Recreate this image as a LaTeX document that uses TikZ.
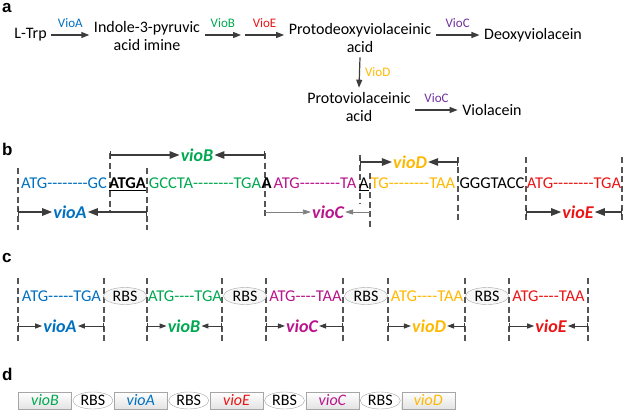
\documentclass[tikz,border=0pt]{standalone}
\usepackage{fontspec}
\setmainfont{Carlito}
\newfontfamily\panelfont{Liberation Sans}
\usepackage{xcolor}
\usetikzlibrary{arrows.meta, positioning, shapes.geometric}

\definecolor{vioAcol}{RGB}{0,112,192}
\definecolor{vioBcol}{RGB}{0,168,80}
\definecolor{vioCcol}{RGB}{112,48,160}
\definecolor{vioCmag}{RGB}{185,20,140}
\definecolor{vioDcol}{RGB}{255,184,0}
\definecolor{vioEcol}{RGB}{235,20,20}
\definecolor{linegray}{RGB}{60,60,60}
\definecolor{cutgray}{RGB}{85,85,85}

% run of plain hyphens (no en-dash ligature)
\newcommand{\seqgap}[1]{\foreach \k in {1,...,#1}{-\kern0pt}}

\begin{document}
\begin{tikzpicture}[
    x=1pt, y=-1pt,
    node distance=1pt,
    chem/.style={align=center, inner sep=4.5pt, font=\fontsize{16}{18}\selectfont},
    enz/.style={above=6pt, inner sep=1pt, font=\fontsize{13}{15}\selectfont},
    rxn/.style={-{Triangle[length=8pt, width=6pt]}, line width=1.2pt, draw=linegray},
    panel/.style={anchor=base west, inner sep=0pt, font=\panelfont\bfseries\fontsize{17}{19}\selectfont},
    seq/.style={anchor=base, inner sep=0pt, font=\fontsize{16.5}{18}\selectfont},
    gene/.style={inner sep=1pt, font=\bfseries\itshape\fontsize{18}{20}\selectfont},
    cut/.style={draw=cutgray, dash pattern=on 6pt off 3.5pt, line width=1.1pt},
    dim/.style={{Bar[width=8pt]}-{Triangle[length=10pt, width=7.5pt]}, line width=1.3pt, draw=linegray},
    dimthin/.style={-{Triangle[length=8pt, width=5pt]}, line width=0.6pt, draw=gray},
    dimsmall/.style={{Bar[width=7pt]}-{Triangle[length=7pt, width=5pt]}, line width=1pt, draw=linegray},
    rbs/.style={ellipse, draw=gray!70, fill=gray!6, minimum width=43pt, minimum height=17pt,
                inner sep=0pt, font=\fontsize{16}{18}\selectfont},
    part/.style={draw=gray!70, top color=white, bottom color=gray!22, minimum width=53pt,
                 minimum height=17pt, inner sep=0pt, font=\itshape\fontsize{16}{18}\selectfont}
]
\useasboundingbox (0,0) rectangle (628,416);

% a: pathway
\node[panel] at (2,12) {a};
\node[chem] (ltrp) at (30.5,35) {L-Trp};
\node[chem] (indole) at (147,36) {Indole-3-pyruvic\\acid imine};
\node[chem] (proto) at (360,38) {Protodeoxyviolaceinic\\acid};
\node[chem] (deoxy) at (533,35) {Deoxyviolacein};
\node[chem] (protov) at (359,107) {Protoviolaceinic\\acid};
\node[chem] (viol) at (492,110) {Violacein};
\coordinate (split) at (243,35);

\draw[rxn] (ltrp.east) -- node[enz, text=vioAcol] {VioA} (ltrp.east -| indole.west);
\draw[rxn] (indole.east |- split) -- node[enz, text=vioBcol] {VioB} ([xshift=-2pt]split);
\draw[rxn] ([xshift=2pt]split) -- node[enz, text=vioEcol] {VioE} (proto.west |- split);
\draw[rxn] (proto.east |- deoxy) -- node[enz, text=vioCcol] {VioC} (deoxy.west);
\draw[rxn] (proto.south) -- node[right=4pt, inner sep=1pt, text=vioDcol,
    font=\fontsize{13}{15}\selectfont] {VioD} (protov.north);
\draw[rxn] (protov.east |- viol) -- node[enz, text=vioCcol] {VioC} (viol.west);

% b: natural operon
\node[panel] at (2,155) {b};
\foreach \n/\x/\ya/\yb in {k1/18/168/230, k2/110/153/212, k3/147/168/230, k4/265/153/217,
    k5/360/155/203, k6/370/173/230, k7/458/157/222, k8/526/157/222, k9/622/157/222} {
  \coordinate (\n) at (\x,\ya);
  \draw[cut] (\n) -- (\x,\yb);
}
\node[seq, text=vioAcol] (sA) at (64,188.5) {ATG\seqgap{8}GC};
\node[seq] (sAB) at (127.5,188.5) {\textbf{\underline{ATGA}}};
\node[seq, text=vioBcol] (sB) at (205,188.5) {GCCTA\seqgap{8}TGA};
\node[seq] (sBC) at (266.5,188.5) {\textbf{A}};
\node[seq, text=vioCmag] (sC) at (315,188.5) {ATG\seqgap{8}TA};
\node[seq] (sCD) at (364,188.5) {\underline{A}};
\node[seq, text=vioDcol] (sD) at (413,188.5) {TG\seqgap{8}TAA};
\node[seq] (kpn) at (492,188.5) {GGGTACC};
\node[seq, text=vioEcol] (sE) at (574,188.5) {ATG\seqgap{8}TGA};

\node[gene, text=vioBcol] (gB) at (197,155) {vioB};
\node[gene, text=vioAcol] (gA) at (70,212) {vioA};
\node[gene, text=vioCmag] (gC) at (328,212) {vioC};
\node[gene, text=vioDcol] (gD) at (410,162) {vioD};
\node[gene, text=vioEcol] (gE) at (578,212) {vioE};
\draw[dim] (gB -| k2) -- (gB.west);  \draw[dim] (gB -| k4) -- (gB.east);
\draw[dim] (gA -| k1) -- (gA.west);  \draw[dim] (gA -| k3) -- (gA.east);
\draw[dimthin] (gC -| k4) -- (gC.west); \draw[dimthin] (gC -| k6) -- (gC.east);
\draw[dim] (gD -| k5) -- (gD.west);  \draw[dim] (gD -| k7) -- (gD.east);
\draw[dim] (gE -| k8) -- (gE.west);  \draw[dim] (gE -| k9) -- (gE.east);

% c: one RBS per gene
\node[panel] at (2,262) {c};
\foreach \n/\x in {m1/18, m2/104, m3/147, m4/222, m5/266, m6/343, m7/388, m8/465, m9/509, m10/588} {
  \coordinate (\n) at (\x,278);
  \draw[cut] (\n) -- (\x,343);
}
\node[seq, text=vioAcol] (cA) at (61.5,301) {ATG\seqgap{5}TGA};
\node[rbs] (rbs1) at (125,296) {RBS};
\node[seq, text=vioBcol] (cB) at (185,301) {ATG\seqgap{4}TGA};
\node[rbs] (rbs2) at (245,296) {RBS};
\node[seq, text=vioCmag] (cC) at (305.5,301) {ATG\seqgap{4}TAA};
\node[rbs] (rbs3) at (366,296) {RBS};
\node[seq, text=vioDcol] (cD) at (427,301) {ATG\seqgap{4}TAA};
\node[rbs] (rbs4) at (487,296) {RBS};
\node[seq, text=vioEcol] (cE) at (548.5,301) {ATG\seqgap{4}TAA};

\node[gene, text=vioAcol] (hA) at (60,326) {vioA};
\node[gene, text=vioBcol] (hB) at (184,326) {vioB};
\node[gene, text=vioCmag] (hC) at (302,326) {vioC};
\node[gene, text=vioDcol] (hD) at (429,326) {vioD};
\node[gene, text=vioEcol] (hE) at (551,326) {vioE};
\draw[dimsmall] (hA -| m1) -- (hA.west); \draw[dimsmall] (hA -| m2) -- (hA.east);
\draw[dimsmall] (hB -| m3) -- (hB.west); \draw[dimsmall] (hB -| m4) -- (hB.east);
\draw[dimsmall] (hC -| m5) -- (hC.west); \draw[dimsmall] (hC -| m6) -- (hC.east);
\draw[dimsmall] (hD -| m7) -- (hD.west); \draw[dimsmall] (hD -| m8) -- (hD.east);
\draw[dimsmall] (hE -| m9) -- (hE.west); \draw[dimsmall] (hE -| m10) -- (hE.east);

% d: rearranged cassette
\node[panel] at (2,380) {d};
\node[part, text=vioBcol] (pB) at (45,400.5) {vioB};
\node[rbs, minimum width=40pt, minimum height=17pt, fill=white, right=of pB] (d1) {RBS};
\node[part, text=vioAcol, right=of d1] (pA) {vioA};
\node[rbs, minimum width=40pt, minimum height=17pt, fill=white, right=of pA] (d2) {RBS};
\node[part, text=vioEcol, right=of d2] (pE) {vioE};
\node[rbs, minimum width=40pt, minimum height=17pt, fill=white, right=of pE] (d3) {RBS};
\node[part, text=vioCmag, right=of d3] (pC) {vioC};
\node[rbs, minimum width=40pt, minimum height=17pt, fill=white, right=of pC] (d4) {RBS};
\node[part, text=vioDcol, right=of d4] (pD) {vioD};
\end{tikzpicture}
\end{document}
